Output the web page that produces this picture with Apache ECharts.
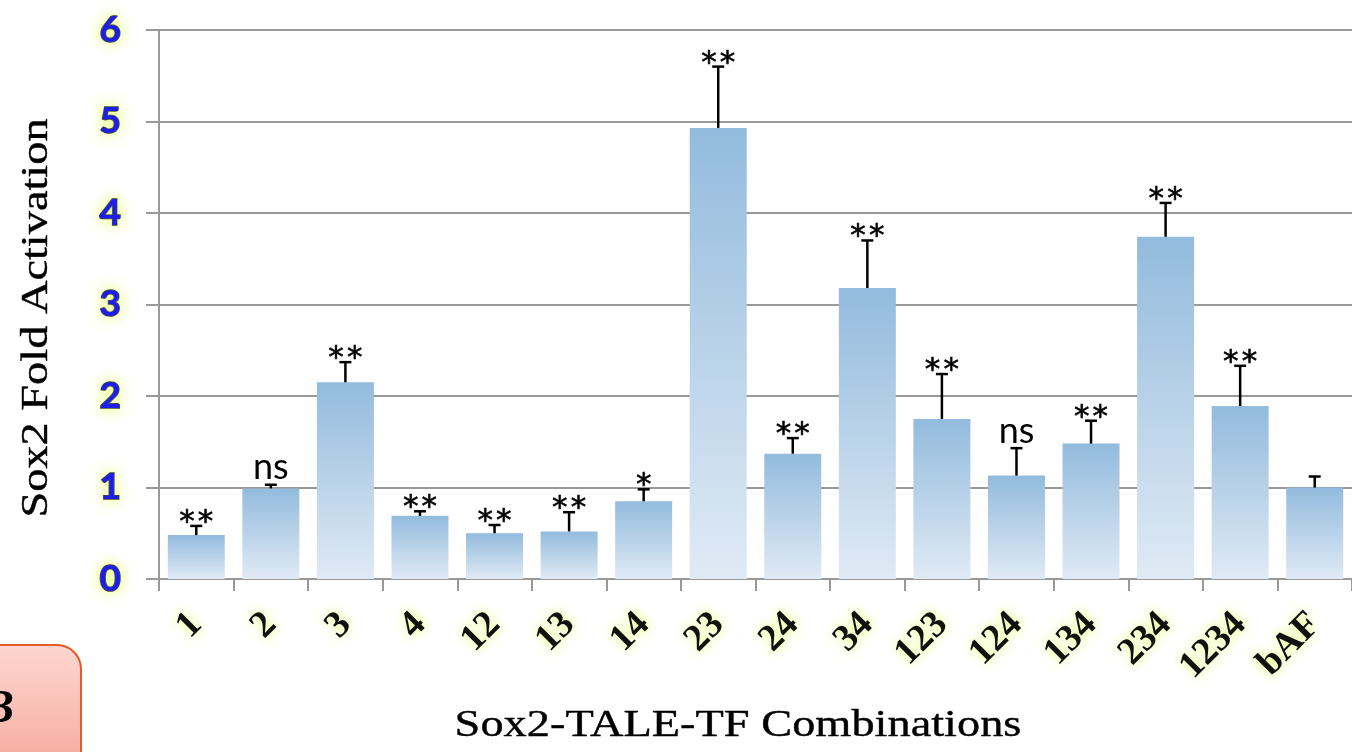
<!DOCTYPE html>
<html>
<head>
<meta charset="utf-8">
<script src="https://cdn.jsdelivr.net/npm/echarts@6/dist/echarts.min.js"></script>
<style>
  html, body { margin: 0; padding: 0; background: #fff; }
  #chart { width: 1352px; height: 752px; }
</style>
</head>
<body>
<div id="chart"></div>
<script>
// data
const categories = ['1', '2', '3', '4', '12', '13', '14', '23', '24', '34', '123', '124', '134', '234', '1234', 'bAF']
const foldValues = [0.48, 0.99, 2.15, 0.69, 0.50, 0.52, 0.85, 4.93, 1.37, 3.18, 1.75, 1.13, 1.48, 3.74, 1.89, 1.00]
const upperErrors = [0.10, 0.04, 0.22, 0.05, 0.09, 0.21, 0.13, 0.67, 0.17, 0.52, 0.49, 0.30, 0.25, 0.37, 0.44, 0.12]
const sigLabels = ['**', 'ns', '**', '**', '**', '**', '*', '**', '**', '**', '**', 'ns', '**', '**', '**', '']
const yTicks = [0, 1, 2, 3, 4, 5, 6]

const chart = echarts.init(document.getElementById('chart'))

const glow = 'rgba(225, 255, 90, 0.95)'
const titleStretch = 1.22

const option = {
  animation: false,
  grid: { left: 159, right: -5, top: 30, bottom: 173, containLabel: false },
  xAxis: {
    type: 'category',
    data: categories,
    axisLine: { lineStyle: { color: '#999', width: 2 } },
    axisTick: { show: true, length: 12, lineStyle: { color: '#999', width: 2 } },
    axisLabel: {
      rotate: 45,
      margin: 40,
      interval: 0,
      fontFamily: 'Liberation Serif',
      fontWeight: 'bold',
      fontSize: 38,
      color: '#111',
      textShadowColor: glow,
      textShadowBlur: 12
    }
  },
  yAxis: {
    type: 'value',
    min: yTicks[0],
    max: yTicks[yTicks.length - 1],
    interval: 1,
    axisLine: { show: true, lineStyle: { color: '#999', width: 2 } },
    axisTick: { show: true, length: 13, lineStyle: { color: '#999', width: 2 } },
    splitLine: { lineStyle: { color: '#999', width: 2 } },
    axisLabel: {
      margin: 38,
      fontFamily: 'Lato',
      fontWeight: 'bold',
      fontSize: 37,
      color: '#1d1df0',
      textBorderColor: '#1a1a1a',
      textBorderWidth: 1.5,
      textShadowColor: glow,
      textShadowBlur: 14
    }
  },
  graphic: [
    {
      type: 'text',
      x: 738, y: 726,
      scaleX: titleStretch,
      style: {
        text: 'Sox2-TALE-TF Combinations',
        align: 'center', verticalAlign: 'middle',
        font: '38px "Liberation Serif"',
        fill: '#000',
        stroke: '#000',
        lineWidth: 0.4
      }
    },
    {
      type: 'text',
      x: 37, y: 318,
      rotation: Math.PI / 2,
      scaleX: titleStretch,
      style: {
        text: 'Sox2 Fold Activation',
        align: 'center', verticalAlign: 'middle',
        font: '38px "Liberation Serif"',
        fill: '#000',
        stroke: '#000',
        lineWidth: 0.4
      }
    },
    {
      type: 'rect',
      shape: { x: -30, y: 645, width: 111, height: 140, r: 24 },
      style: {
        fill: new echarts.graphic.LinearGradient(0, 0, 0, 1, [
          { offset: 0, color: '#fdd7d1' },
          { offset: 1, color: '#f6a496' }
        ]),
        stroke: '#e55a28',
        lineWidth: 2
      }
    },
    {
      type: 'text',
      x: 14, y: 710,
      style: {
        text: 'B',
        align: 'right', verticalAlign: 'middle',
        font: 'italic bold 46px "Liberation Serif"',
        fill: '#000'
      }
    }
  ],
  series: [
    {
      type: 'bar',
      data: foldValues,
      barWidth: 57,
      itemStyle: {
        color: new echarts.graphic.LinearGradient(0, 0, 0, 1, [
          { offset: 0, color: '#93bbdd' },
          { offset: 1, color: '#e0eaf5' }
        ])
      },
      z: 2
    },
    {
      type: 'custom',
      data: categories.map((c, i) => [i, foldValues[i], upperErrors[i]]),
      z: 3,
      renderItem: (params, api) => {
        const i = api.value(0)
        const v = api.value(1)
        const e = api.value(2)
        const base = api.coord([i, v])
        const top = api.coord([i, v + e])
        const x = base[0]
        const children = [
          {
            type: 'line',
            shape: { x1: x, y1: base[1], x2: x, y2: top[1] },
            style: { stroke: '#000', lineWidth: 2.5 }
          },
          {
            type: 'line',
            shape: { x1: x - 6, y1: top[1], x2: x + 6, y2: top[1] },
            style: { stroke: '#000', lineWidth: 2.5 }
          }
        ]
        const lbl = sigLabels[i]
        if (lbl) {
          const isStar = lbl.indexOf('*') >= 0
          children.push({
            type: 'text',
            x: x, y: isStar ? top[1] - 3 : top[1] - 17,
            style: {
              text: isStar ? lbl.split('').join('\u200A') : lbl,
              align: 'center', verticalAlign: 'middle',
              font: isStar ? '31px "DejaVu Sans"' : '36px "Lato"',
              fill: '#000',
              stroke: isStar ? '#000' : null,
              lineWidth: isStar ? 0.6 : 0
            }
          })
        }
        return { type: 'group', children }
      }
    }
  ]
}

chart.setOption(option)
</script>
</body>
</html>
